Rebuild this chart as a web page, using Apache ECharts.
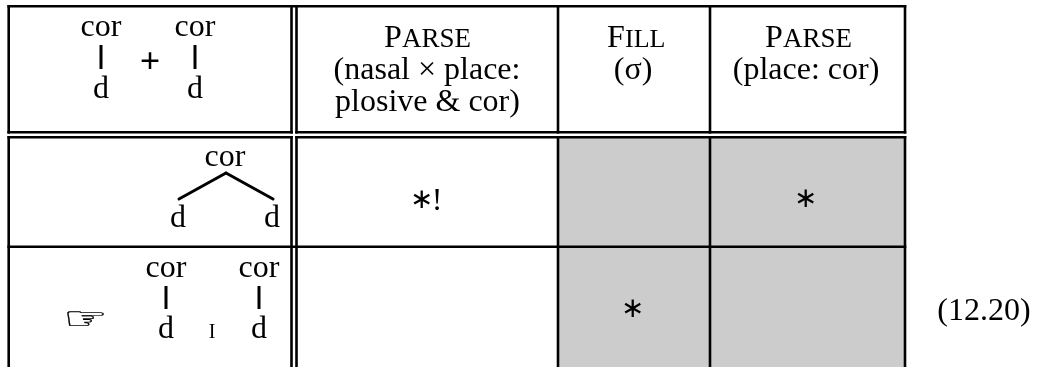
<!DOCTYPE html>
<html>
<head>
<meta charset="utf-8">
<style>
html, body { margin: 0; padding: 0; background: #fff; }
#chart { width: 1037px; height: 367px; }
</style>
<script src="https://cdn.jsdelivr.net/npm/echarts@6/dist/echarts.min.js"></script>
</head>
<body>
<div id="chart"></div>
<script>
// table grid
var colEdges = [8.7, 291.5, 296.5, 558, 710, 905];
var rowEdges = [6.3, 132.3, 137.3, 246.7, 367];
// [column, row] index of the shaded cells
var shadedCells = [[3, 2], [4, 2], [3, 3], [4, 3]];

// tree branches: [x0, y0, x1, y1]
var branches = [
    [101, 45, 101, 69],
    [195, 45, 195, 69],
    [179, 199, 226, 173],
    [226, 173, 273, 199],
    [166, 286, 166, 309],
    [259, 286, 259, 309]
];

// text pieces
var textLabels = ['cor', 'cor', 'd', 'd', '+',
    'P', 'ARSE', '(nasal × place:', 'plosive & cor)',
    'F', 'ILL', '(σ)',
    'P', 'ARSE', '(place: cor)',
    'cor', 'd', 'd', '∗', '!', '∗',
    'cor', 'cor', 'd', 'I', 'd', '☞', '∗', '(12.20)'];
var textX = [101, 195, 101, 195, 150,
    384, 402, 427, 427.5,
    607, 625, 633,
    765, 783, 806,
    225, 178, 272, 421, 437, 805,
    166, 259, 166, 212, 259, 86, 632, 984];
var textBaseline = [37, 37, 99, 99, 75,
    48, 48, 80, 112,
    48, 48, 80,
    48, 48, 80,
    167, 228, 228, 209, 211, 208,
    278, 278, 339, 339, 339, 336, 318, 321];
var textSize = [32, 32, 32, 32, 36,
    32, 27, 32, 32,
    32, 26, 32,
    32, 27, 32,
    32, 32, 32, 28, 32, 28,
    32, 32, 32, 20, 32, 50, 28, 32];
var textAlign = ['center', 'center', 'center', 'center', 'center',
    'left', 'left', 'center', 'center',
    'left', 'left', 'center',
    'left', 'left', 'center',
    'center', 'center', 'center', 'center', 'center', 'center',
    'center', 'center', 'center', 'center', 'center', 'center', 'center', 'center'];

var lineColor = '#000';
var ruleWidth = 2.6;
var handSquash = 0.62;

function buildRules() {
    var rules = [];
    var top = rowEdges[0], bottom = rowEdges[rowEdges.length - 1];
    var left = colEdges[0], right = colEdges[colEdges.length - 1];
    // verticals are broken by the white gap of the double rule
    colEdges.forEach(function(x) {
        rules.push([x, top - 1.3, x, rowEdges[1] + 1.3]);
        rules.push([x, rowEdges[2] - 1.3, x, bottom]);
    });
    rowEdges.slice(0, 4).forEach(function(y, i) {
        if (i === 0 || i === 3) {
            rules.push([left - 1.3, y, right + 1.3, y]);
        } else {
            rules.push([left - 1.3, y, colEdges[1] + 1.3, y]);
            rules.push([colEdges[2] - 1.3, y, right + 1.3, y]);
        }
    });
    return rules;
}

function segmentItem(params, api) {
    var a = api.coord([api.value(0), api.value(1)]);
    var b = api.coord([api.value(2), api.value(3)]);
    var slanted = a[0] !== b[0] && a[1] !== b[1];
    return {
        type: 'line',
        shape: { x1: a[0], y1: a[1], x2: b[0], y2: b[1] },
        style: { stroke: lineColor, lineWidth: api.value(4), lineCap: slanted ? 'round' : 'butt' }
    };
}

var chart = echarts.init(document.getElementById('chart'), null, { renderer: 'canvas' });

chart.setOption({
    animation: false,
    backgroundColor: '#fff',
    grid: { left: 0, right: 0, top: 0, bottom: 0 },
    xAxis: { type: 'value', min: 0, max: 1037, show: false },
    yAxis: { type: 'value', min: 0, max: 367, inverse: true, show: false },
    series: [{
        type: 'custom',
        silent: true,
        z: 1,
        data: shadedCells.map(function(c) {
            return [colEdges[c[0]], rowEdges[c[1]], colEdges[c[0] + 1], rowEdges[c[1] + 1]];
        }),
        renderItem: function(params, api) {
            var a = api.coord([api.value(0), api.value(1)]);
            var b = api.coord([api.value(2), api.value(3)]);
            return {
                type: 'rect',
                shape: { x: a[0], y: a[1], width: b[0] - a[0], height: b[1] - a[1] },
                style: { fill: '#cccccc' }
            };
        }
    }, {
        type: 'custom',
        silent: true,
        z: 2,
        clip: false,
        data: buildRules().map(function(r) { return r.concat(ruleWidth); })
            .concat(branches.map(function(b) { return b.concat(3); })),
        renderItem: segmentItem
    }, {
        type: 'custom',
        silent: true,
        z: 3,
        data: textLabels.map(function(t, i) { return [textX[i], textBaseline[i], textSize[i], i]; }),
        renderItem: function(params, api) {
            var i = api.value(3);
            var size = api.value(2);
            var p = api.coord([api.value(0), api.value(1)]);
            var label = textLabels[i];
            var isHand = label === '☞';
            var family = isHand ? '"DejaVu Sans"' : '"Liberation Serif"';
            var weight = label === '+' ? 'bold ' : '';
            return {
                type: 'text',
                x: p[0],
                y: p[1] - size * 0.3,
                scaleY: isHand ? handSquash : 1,
                style: {
                    text: label,
                    x: 0,
                    y: 0,
                    align: textAlign[i],
                    verticalAlign: 'middle',
                    font: weight + size + 'px ' + family,
                    fill: '#000',
                    stroke: isHand ? '#000' : null,
                    lineWidth: isHand ? 0.5 : 0
                }
            };
        }
    }]
});
</script>
</body>
</html>
